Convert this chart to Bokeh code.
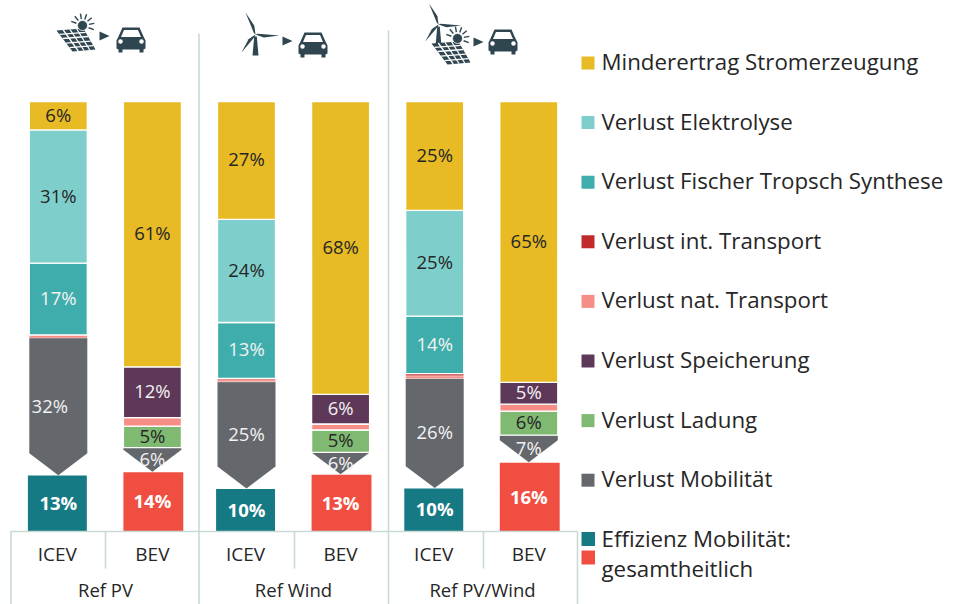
from bokeh.plotting import figure
from bokeh.embed import file_html
from bokeh.resources import INLINE
from bokeh.models import Range1d
import math

# ---- data -------------------------------------------------------------
bars = ["ICEV", "BEV", "ICEV", "BEV", "ICEV", "BEV"]
groups = ["Ref PV", "Ref Wind", "Ref PV/Wind"]

# heights (% of input), bottom-to-top stacking
effizienz   = [13.0, 13.8,  9.9, 13.2, 10.0, 16.0]
mobilitaet  = [32.0,  5.7, 24.9,  5.2, 25.6,  6.4]
ladung      = [ 0.0,  5.0,  0.0,  5.2,  0.0,  5.6]
nat_transp  = [ 0.7,  2.0,  0.5,  1.4,  0.6,  1.6]
int_transp  = [ 0.0,  0.0,  0.3,  0.0,  0.5,  0.0]
speicher    = [ 0.0, 11.8,  0.0,  6.9,  0.0,  5.1]
fischer     = [16.7,  0.0, 13.0,  0.0, 13.4,  0.0]
elektrolyse = [31.0,  0.0, 24.0,  0.0, 24.6,  0.0]
minderertrag= [ 6.6, 61.7, 27.4, 68.1, 25.3, 65.3]

# printed labels
lab_eff  = ["13%", "14%", "10%", "13%", "10%", "16%"]
lab_mob  = ["32%", "6%", "25%", "6%", "26%", "7%"]
lab_lad  = ["", "5%", "", "5%", "", "6%"]
lab_spe  = ["", "12%", "", "6%", "", "5%"]
lab_ft   = ["17%", "", "13%", "", "14%", ""]
lab_ele  = ["31%", "", "24%", "", "25%", ""]
lab_min  = ["6%", "61%", "27%", "68%", "25%", "65%"]

legend_names = ["Minderertrag Stromerzeugung", "Verlust Elektrolyse",
                "Verlust Fischer Tropsch Synthese", "Verlust int. Transport",
                "Verlust nat. Transport", "Verlust Speicherung",
                "Verlust Ladung", "Verlust Mobilität"]
legend_last = ["Effizienz Mobilität:", "gesamtheitlich"]

# ---- styles -------------------------------------------------------------
C_MIN, C_ELE, C_FT, C_INT, C_NAT = "#e8bb25", "#7ecfcb", "#3fadac", "#c02a2a", "#f78d87"
C_SPE, C_LAD, C_MOB, C_ICE, C_BEV = "#5e3858", "#7fb972", "#64676b", "#167a84", "#f14e42"
LINE = "#c9dad5"
ICON = "#2f4550"
FONT = "Open Sans"

W, H = 964, 604
OX, OY = 0, 0                # page px of the figure's corner
X0, DX = 57.8, 94.1          # page px of first bar centre, spacing
Y0, SY = 531.0, 4.3          # page px of the zero line, px per %
BW = 58 / DX
TS = 1.5 / SY                # small upward nudge of texts

p = figure(width=W, height=H, output_backend="svg", toolbar_location=None,
           x_range=Range1d((OX - X0) / DX, (OX + W - X0) / DX),
           y_range=Range1d((Y0 - OY - H) / SY, (Y0 - OY) / SY),
           min_border=0, outline_line_color=None, background_fill_color="white")
p.axis.visible = False
p.grid.visible = False

fx = lambda px: (px - X0) / DX
fy = lambda py: (Y0 - py) / SY

idx = list(range(len(bars)))

# efficiency blocks
p.vbar(x=[i - 0.01 for i in idx[::2]], width=BW + 0.01, bottom=0, top=effizienz[::2],
       fill_color=C_ICE, line_color=None)
p.vbar(x=[i + 0.01 for i in idx[1::2]], width=BW + 0.02, bottom=0, top=effizienz[1::2],
       fill_color=C_BEV, line_color=None)
base = list(effizienz)

# mobility arrows
ARROW = 5.1
for i in idx:
    tip = base[i] + 0.1
    top = base[i] + mobilitaet[i]
    sh = min(top, tip + ARROW)
    l, r = i - BW / 2, i + BW / 2
    p.patch([l, r, r, i, l], [top, top, sh, tip, sh], fill_color=C_MOB, line_color=None)
base = [b + m for b, m in zip(base, mobilitaet)]

stack = [(ladung, C_LAD), (nat_transp, C_NAT), (int_transp, C_INT), (speicher, C_SPE),
         (fischer, C_FT), (elektrolyse, C_ELE), (minderertrag, C_MIN)]
centers = {}
for vals, col in stack:
    tops = [b + v for b, v in zip(base, vals)]
    keep = [i for i in idx if vals[i] > 0]
    thin = [vals[i] < 1 for i in keep]
    p.vbar(x=keep, width=BW, bottom=[base[i] for i in keep], top=[tops[i] for i in keep],
           fill_color=col, line_color="white", line_width=[0.4 if t else 1.3 for t in thin])
    centers[id(vals)] = [(b + t) / 2 for b, t in zip(base, tops)]
    base = tops

def labels(texts, color, centre, bold=False, dx=None):
    for i in idx:
        if texts[i]:
            p.text([i + (dx[i] if dx else 0)], [centre[i] + TS], text=[texts[i]],
                   text_color=color, text_align="center", text_baseline="middle",
                   text_font_size="18.5px", text_font={"value": FONT},
                   text_font_style="bold" if bold else "normal")

DARK = "#262626"
labels(lab_eff, "white", [v / 2 - 0.1 for v in effizienz], True)
mob_c = [e + m / 2 for e, m in zip(effizienz, mobilitaet)]
labels(lab_mob, "#f2f2f2", mob_c, dx=[-0.09, 0, 0, 0, 0, 0])
labels(lab_lad, DARK, centers[id(ladung)])
labels(lab_spe, "#f2f2f2", centers[id(speicher)])
labels(lab_ft, "#f2f2f2", centers[id(fischer)])
labels(lab_ele, DARK, centers[id(elektrolyse)])
labels(lab_min, DARK, centers[id(minderertrag)])

# table-like axis
def vline(px, y1, y2, w=1.6):
    p.line([fx(px)] * 2, [fy(y1), fy(y2)], line_color=LINE, line_width=w)
vline(198.5, 33, 610); vline(388, 30, 610)
vline(10.5, 531, 610); vline(577, 531, 610)
for mid in (105, 294, 483):
    vline(mid, 531, 568)
p.line([fx(10), fx(577)], [0, 0], line_color=LINE, line_width=1.6)

def txt(px, py, s, size, align="center", color="#262626"):
    p.text([fx(px)], [fy(py) + TS], text=[s], text_color=color, text_align=align,
           text_baseline="middle", text_font_size=size, text_font={"value": FONT})
for i, b in enumerate(bars):
    txt(X0 + DX * i - (1 if i % 2 == 0 else 0), 555, b, "19px")
for cx, g in zip((105, 293, 482), groups):
    txt(cx, 590, g, "18.5px")

# legend
cols = [C_MIN, C_ELE, C_FT, C_INT, C_NAT, C_SPE, C_LAD, C_MOB]
LX, LY, LS = 587.5, 62.5, 59.6
for k, (name, col) in enumerate(zip(legend_names, cols)):
    yy = LY + k * LS
    p.quad(left=fx(LX - 6.5), right=fx(LX + 6.5), top=fy(yy - 6.5), bottom=fy(yy + 6.5),
           fill_color=col, line_color=None)
    txt(601, yy, name, "22.3px", "left")
for yy, col in ((538.5, C_ICE), (557, C_BEV)):
    p.quad(left=fx(LX - 6.5), right=fx(LX + 7), top=fy(yy - 7), bottom=fy(yy + 7),
           fill_color=col, line_color=None)
txt(601, 539, legend_last[0], "22.3px", "left")
txt(601, 569, legend_last[1], "22.3px", "left")

# ---- icons (page-pixel outlines, decorative) ---------------------------
def poly(xs, ys, col=ICON):
    p.patch([fx(a) for a in xs], [fy(b) for b in ys], fill_color=col, line_color=None)
def seg(x1, y1, x2, y2, col=ICON, w=1.5):
    p.line([fx(x1), fx(x2)], [fy(y1), fy(y2)], line_color=col, line_width=w)

def car(x, y):  # x, y = top-left
    poly([x+6, x+23, x+27, x+29, x+29, x+27, x+27, x+23, x+23, x+6, x+6, x+2, x+2, x, x, x+2],
         [y, y, y+9, y+13, y+21, y+22, y+25, y+25, y+22, y+22, y+25, y+25, y+22, y+21, y+13, y+9])
    poly([x+7.5, x+21.5, x+24.5, x+4.5], [y+2.5, y+2.5, y+9.5, y+9.5], "white")
    for cx in (x+4, x+25):
        p.scatter([fx(cx)], [fy(y+14)], size=4.5, marker="circle", fill_color="white", line_color=None)

def arrow(x, y):
    poly([x, x+10, x], [y, y+4.5, y+9])

def solar(ax, ay, s=1.0):
    c = [(ax, ay + 2), (ax + 27*s, ay), (ax + 39*s, ay + 21*s), (ax + 16*s, ay + 23*s)]
    poly([q[0] for q in c], [q[1] for q in c])
    lerp = lambda a, b, t: (a[0] + (b[0]-a[0])*t, a[1] + (b[1]-a[1])*t)
    for t in (0.18, 0.38, 0.6, 0.82):
        a, b = lerp(c[0], c[3], t), lerp(c[1], c[2], t)
        seg(a[0], a[1], b[0], b[1], "white", 1.3)
    for t in (0.25, 0.5, 0.75):
        a, b = lerp(c[0], c[1], t), lerp(c[3], c[2], t)
        seg(a[0], a[1], b[0], b[1], "white", 1.3)
    sx, sy = ax + 26*s, ay - 3*s
    p.scatter([fx(sx)], [fy(sy)], size=10*s, marker="circle", fill_color=ICON, line_color="white", line_width=0.8)
    for a in range(-160, 40, 30):
        r = math.radians(a)
        seg(sx + 6.5*s*math.cos(r), sy + 6.5*s*math.sin(r),
            sx + 12*s*math.cos(r), sy + 12*s*math.sin(r), ICON, 1.4)

def turbine(hx, hy, s=1.0):
    tips = [(-10, -22), (24, 1), (-14, 18)]
    for tx, ty in tips:
        n = math.hypot(tx, ty)
        ux, uy = tx / n, ty / n
        nx, ny = -uy, ux
        poly([hx, hx + s*(tx*.35 + nx*2.6), hx + s*tx, hx - s*nx*0.8 + s*tx*.1],
             [hy, hy + s*(ty*.35 + ny*2.6), hy + s*ty, hy - s*ny*0.8 + s*ty*.1])
    poly([hx - 1.3*s, hx + 1.3*s, hx + 3*s, hx - 3*s], [hy + 2, hy + 2, hy + 21*s, hy + 21*s])

solar(56, 28); arrow(99, 31); car(116, 27)
turbine(255, 34); arrow(282, 36); car(298, 32)
turbine(438, 24, 0.95); solar(431, 41, 1.0); arrow(473, 37); car(488, 29)

open("out.html", "w").write(file_html(p, INLINE))
